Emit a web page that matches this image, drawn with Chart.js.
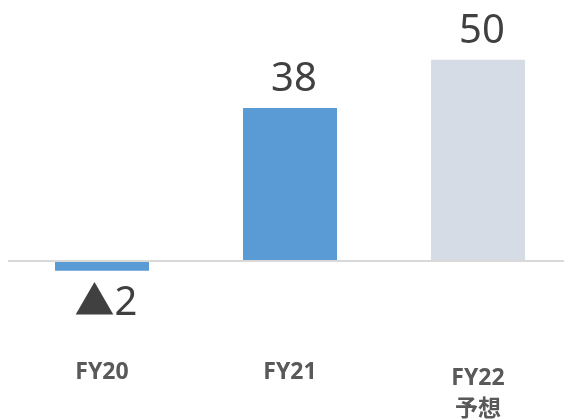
<!DOCTYPE html>
<html>
<head>
<meta charset="utf-8">
<script src="https://cdn.jsdelivr.net/npm/chart.js@4"></script>
<style>
  html, body { margin: 0; padding: 0; background: #fff; overflow: hidden; }
  #wrap { width: 572px; height: 419px; }
</style>
</head>
<body>
<div id="wrap"><canvas id="myChart"></canvas></div>
<script>
// chart data
const categories = [['FY20'], ['FY21'], ['FY22', '予想']];
const values = [-2.4, 38, 50];
const barColors = ['#5b9bd5', '#5b9bd5', '#d6dce5'];

const textFont = "'Noto Sans', 'Noto Sans CJK JP', sans-serif";

// value labels + category labels drawn from the scales
const labelPlugin = {
    id: 'labels',
    afterDatasetsDraw(chart) {
        const ctx = chart.ctx;
        const meta = chart.getDatasetMeta(0);
        const y = chart.scales.y;
        const zero = y.getPixelForValue(0);
        ctx.save();
        ctx.textAlign = 'center';
        meta.data.forEach((bar, i) => {
            const v = values[i];
            ctx.fillStyle = '#404040';
            ctx.font = '40px ' + textFont;
            if (v >= 0) {
                ctx.textBaseline = 'bottom';
                ctx.fillText(String(Math.round(v)), bar.x + 4, bar.y - 8);
            } else {
                ctx.textBaseline = 'middle';
                ctx.fillText('▲' + Math.round(-v), bar.x + 4, bar.y + 33);
            }
            // category labels
            ctx.fillStyle = '#595959';
            ctx.font = 'bold 23px ' + textFont;
            ctx.textBaseline = 'middle';
            const lines = categories[i];
            const first = lines.length > 1 ? zero + 117 : zero + 111;
            lines.forEach((t, k) => {
                ctx.fillText(t, bar.x, first + k * 31);
            });
        });
        ctx.restore();
    }
};

document.addEventListener('DOMContentLoaded', function () {
    const ctx = document.getElementById('myChart');

    new Chart(ctx, {
        type: 'bar',
        data: {
            labels: categories.map(c => c.join(' ')),
            datasets: [{
                data: values,
                backgroundColor: barColors,
                borderWidth: 0,
                barPercentage: 1,
                categoryPercentage: 0.5
            }]
        },
        options: {
            responsive: true,
            maintainAspectRatio: false,
            animation: false,
            layout: { padding: { left: 8, right: 0, top: 0, bottom: 0 } },
            plugins: {
                legend: { display: false },
                tooltip: { enabled: false }
            },
            scales: {
                x: {
                    display: false
                },
                y: {
                    min: -39.2,
                    max: 64.8,
                    ticks: { display: false, stepSize: 200 },
                    border: { display: false },
                    grid: {
                        drawTicks: false,
                        color: ctx => ctx.tick && ctx.tick.value === 0 ? '#d9d9d9' : 'rgba(0,0,0,0)',
                        lineWidth: ctx => ctx.tick && ctx.tick.value === 0 ? 2 : 0
                    },
                    afterBuildTicks: axis => { axis.ticks = [{ value: 0 }]; }
                }
            }
        },
        plugins: [labelPlugin]
    });
});
</script>
</body>
</html>
